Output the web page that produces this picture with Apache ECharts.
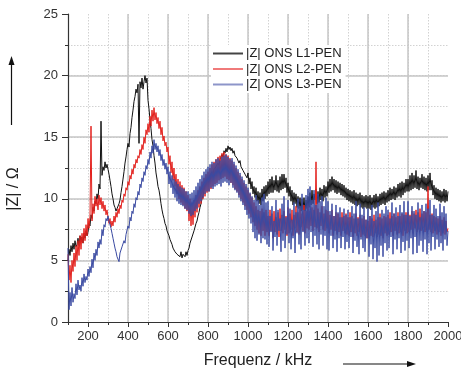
<!DOCTYPE html>
<html><head><meta charset="utf-8">
<script src="https://cdn.jsdelivr.net/npm/echarts@6/dist/echarts.min.js"></script>
<style>html,body{margin:0;padding:0;background:#fff}#c{width:461px;height:370px}</style>
</head><body><div id="c"></div>
<script>
// Frequency grid (kHz)
const freq = [
100,105,110,115,120,125,130,135,140,145,150,155,160,165,170,175,180,185,190,195,
200,205,210,215,220,225,230,235,240,245,250,255,260,265,270,275,280,285,290,295,
300,305,310,315,320,325,330,335,340,345,350,355,360,365,370,375,380,385,390,395,
400,405,410,415,420,425,430,435,440,445,450,455,460,465,470,475,480,485,490,495,
500,505,510,515,520,525,530,535,540,545,550,555,560,565,570,575,580,585,590,595,
600,605,610,615,620,625,630,635,640,645,650,655,660,665,670,675,680,685,690,695,
700,705,710,715,720,725,730,735,740,745,750,755,760,765,770,775,780,785,790,795,
800,805,810,815,820,825,830,835,840,845,850,855,860,865,870,875,880,885,890,895,
900,905,910,915,920,925,930,935,940,945,950,955,960,965,970,975,980,985,990,995,
1000,1005,1010,1015,1020,1025,1030,1035,1040,1045,1050,1055,1060,1065,1070,1075,1080,1085,1090,1095,
1100,1105,1110,1115,1120,1125,1130,1135,1140,1145,1150,1155,1160,1165,1170,1175,1180,1185,1190,1195,
1200,1205,1210,1215,1220,1225,1230,1235,1240,1245,1250,1255,1260,1265,1270,1275,1280,1285,1290,1295,
1300,1305,1310,1315,1320,1325,1330,1335,1340,1345,1350,1355,1360,1365,1370,1375,1380,1385,1390,1395,
1400,1405,1410,1415,1420,1425,1430,1435,1440,1445,1450,1455,1460,1465,1470,1475,1480,1485,1490,1495,
1500,1505,1510,1515,1520,1525,1530,1535,1540,1545,1550,1555,1560,1565,1570,1575,1580,1585,1590,1595,
1600,1605,1610,1615,1620,1625,1630,1635,1640,1645,1650,1655,1660,1665,1670,1675,1680,1685,1690,1695,
1700,1705,1710,1715,1720,1725,1730,1735,1740,1745,1750,1755,1760,1765,1770,1775,1780,1785,1790,1795,
1800,1805,1810,1815,1820,1825,1830,1835,1840,1845,1850,1855,1860,1865,1870,1875,1880,1885,1890,1895,
1900,1905,1910,1915,1920,1925,1930,1935,1940,1945,1950,1955,1960,1965,1970,1975,1980,1985,1990,1995,
2000];

// |Z| ONS L1-PEN
const zL1 = [
5.0,5.9,5.4,6.2,5.7,6.4,5.9,6.6,6.1,6.3,6.8,6.2,7.0,6.5,6.9,6.4,7.2,6.8,7.4,7.0,
7.3,8.0,7.8,8.7,8.4,9.3,9.0,9.8,9.6,10.4,10.0,11.2,10.8,16.3,11.9,12.6,12.3,13.0,12.5,12.8,
12.4,12.0,11.5,11.0,10.4,10.0,9.5,9.3,9.0,9.2,9.1,9.6,9.9,10.5,11.0,11.6,12.2,12.9,13.4,14.0,
14.5,14.2,15.3,15.8,16.6,17.2,17.9,18.3,18.9,18.6,19.3,14.5,19.5,19.0,19.8,18.9,19.5,20.0,19.4,19.8,
18.0,17.3,16.4,15.7,14.8,14.3,13.5,12.9,12.1,11.6,11.0,10.7,10.2,9.6,9.1,8.7,8.4,8.0,7.8,7.4,
7.3,7.0,6.7,6.6,6.3,6.0,5.9,5.7,5.8,5.5,5.4,5.6,5.3,5.7,5.2,5.5,5.6,5.3,5.7,5.4,
5.8,6.0,6.4,6.3,6.9,7.0,7.4,7.5,8.0,8.2,8.6,8.9,9.3,9.6,10.0,10.3,10.8,10.9,11.3,11.3,
11.6,11.5,11.9,11.8,12.2,12.0,12.4,12.3,12.6,12.5,12.9,12.7,13.2,13.1,13.6,13.4,13.9,13.7,14.1,13.8,
14.3,14.0,14.2,13.9,14.1,13.7,13.9,13.5,13.6,13.3,13.3,12.9,13.1,12.6,12.7,12.3,12.4,12.0,12.1,11.7,
12.1,11.2,11.7,10.8,11.4,10.4,11.0,10.1,10.9,9.8,10.6,9.6,10.5,9.5,10.8,9.8,11.0,10.0,11.1,10.2,
11.4,10.4,11.6,10.5,11.8,10.5,11.5,10.7,11.9,10.6,11.5,10.5,11.8,10.7,12.0,10.8,12.0,10.9,11.7,10.5,
11.3,10.2,11.0,9.8,10.7,9.5,10.5,9.6,10.4,9.3,10.2,9.2,10.1,9.0,10.0,9.1,10.1,9.0,9.9,9.2,
10.2,9.3,10.5,9.5,10.7,9.6,10.4,9.9,10.8,9.6,10.6,9.7,10.9,9.9,10.8,9.8,11.1,10.1,11.0,10.2,
11.4,10.5,11.6,10.6,11.8,10.7,11.6,10.5,11.5,10.4,11.4,10.5,11.3,10.3,11.2,10.2,11.1,10.1,10.9,9.9,
10.8,9.8,10.7,9.7,10.6,9.6,10.7,9.5,10.5,9.4,10.4,9.5,10.5,9.3,10.3,9.2,10.2,9.3,10.3,9.2,
10.2,9.2,10.3,9.1,10.1,9.3,10.3,9.2,10.4,9.3,10.2,9.4,10.4,9.5,10.5,9.6,10.6,9.5,10.5,9.7,
10.7,9.8,10.9,9.9,10.8,10.0,11.0,9.9,10.9,10.1,11.2,10.2,11.3,10.1,11.4,10.3,11.3,10.5,11.6,10.6,
11.6,10.6,11.9,10.7,12.1,10.8,11.9,10.9,12.3,10.8,11.8,10.7,11.7,10.9,12.0,10.8,11.8,10.7,11.7,10.6,
11.9,10.7,12.1,10.7,11.5,10.3,11.1,10.0,10.9,9.9,10.8,9.8,10.7,9.7,10.6,9.8,10.8,9.7,10.7,9.8,
10.6];

// |Z| ONS L2-PEN
const zL2 = [
5.5,3.4,4.6,3.2,5.0,4.1,5.6,4.5,6.2,5.0,6.6,5.4,7.0,5.9,7.2,6.4,7.6,6.6,7.9,7.0,
8.4,7.6,8.6,15.9,8.2,9.6,8.8,10.2,9.4,10.0,9.1,10.3,9.5,10.1,9.2,9.8,9.0,9.5,8.7,9.1,
8.5,8.0,8.4,7.7,8.2,7.8,8.6,8.1,8.9,8.5,9.2,8.8,9.5,9.2,9.9,9.7,10.4,10.2,10.9,10.7,
11.4,11.1,11.9,11.6,12.4,12.0,12.8,12.5,13.2,12.9,13.5,13.3,14.0,13.6,14.4,14.0,15.0,14.5,15.6,15.2,
16.1,15.4,16.7,15.9,17.2,16.3,17.4,16.4,17.0,16.1,16.6,15.7,16.3,15.2,15.8,14.7,15.1,14.3,14.6,13.8,
14.2,12.8,13.5,12.1,13.0,11.5,12.5,11.0,12.0,10.4,11.6,10.0,11.4,9.7,11.1,9.5,10.9,9.2,10.6,9.0,
10.3,8.2,10.0,7.8,9.7,7.9,9.9,8.5,10.3,8.9,10.7,9.3,11.0,9.6,11.4,10.0,11.7,10.2,12.0,10.5,
12.2,10.6,12.5,10.8,12.8,11.0,13.0,11.2,13.2,11.3,13.4,11.5,13.5,11.6,13.7,11.7,13.8,11.8,13.6,11.6,
13.5,11.5,13.3,11.3,13.1,11.1,12.8,10.8,12.5,10.6,12.2,10.3,11.9,10.0,11.6,9.7,11.3,9.4,11.0,9.1,
10.7,8.8,10.4,8.5,10.1,8.1,9.7,7.8,9.4,7.5,9.1,7.2,9.0,7.0,9.2,7.4,8.9,7.0,9.1,7.3,
8.6,7.0,9.1,7.4,8.8,6.8,9.0,7.3,8.5,7.1,8.9,6.9,9.2,7.4,8.7,7.2,9.0,7.5,8.6,7.0,
9.3,7.2,8.8,7.5,9.1,7.0,8.7,7.6,9.4,7.3,8.9,7.1,9.2,7.7,8.8,7.4,9.5,7.2,9.0,7.6,
9.4,7.5,9.0,7.8,9.3,7.4,9.1,7.7,13.0,7.6,9.2,7.3,8.9,7.8,9.4,7.5,8.8,7.4,9.1,7.6,
9.0,7.2,8.7,7.5,9.1,7.0,8.6,7.4,8.9,7.1,8.8,7.3,8.5,7.0,8.9,7.4,8.6,7.2,8.8,7.1,
8.5,7.0,8.9,7.3,8.6,6.9,8.4,7.2,8.8,7.0,8.5,7.3,8.7,6.9,8.4,7.1,8.6,7.0,8.3,6.8,
8.2,6.8,8.6,7.0,8.4,6.9,8.7,7.2,8.3,6.9,8.5,7.1,8.8,7.0,8.4,6.8,8.6,7.2,8.5,7.0,
8.7,7.1,8.9,7.3,8.6,7.0,8.8,7.4,8.5,7.1,8.9,7.2,8.6,7.3,8.8,7.0,8.7,7.4,8.9,7.2,
8.9,7.3,8.7,7.5,9.0,7.2,8.8,7.6,9.1,7.3,8.9,7.5,9.2,7.4,8.8,7.6,9.0,7.3,8.9,7.5,
11.0,7.5,8.7,7.3,8.8,7.2,8.6,7.4,8.5,7.1,8.4,7.3,8.6,7.0,8.3,7.2,8.5,7.1,8.2,7.3,
7.6];

// |Z| ONS L3-PEN
const zL3 = [
6.0,1.0,2.4,1.3,2.8,1.6,2.3,1.9,3.1,2.2,3.4,2.6,3.0,2.5,3.6,2.9,3.9,3.2,3.7,3.4,
4.3,3.7,4.5,4.0,5.1,4.4,5.6,5.0,5.9,5.4,6.5,6.0,6.7,6.3,7.5,7.0,7.9,7.7,8.4,8.2,
8.6,8.2,8.1,7.6,7.2,6.8,6.4,6.0,5.7,5.3,5.3,4.9,5.6,5.5,6.1,6.0,6.6,6.4,7.1,7.0,
7.8,7.6,8.5,8.2,9.0,8.8,9.6,9.3,10.1,9.9,10.6,10.3,11.2,10.9,11.7,11.4,12.2,11.9,12.7,12.4,
13.2,12.8,13.8,13.3,14.3,13.7,14.8,14.0,14.5,13.8,14.3,13.5,14.0,13.1,13.6,12.7,13.2,12.4,12.9,12.0,
12.6,11.2,12.2,10.9,11.9,10.4,11.6,10.1,11.4,9.8,11.2,9.6,11.0,9.5,10.9,9.4,10.8,9.2,10.6,9.1,
10.6,8.8,10.4,8.6,10.5,8.7,10.7,9.0,11.0,9.2,11.3,9.6,11.6,9.8,11.9,10.1,12.2,10.4,12.4,10.6,
12.6,10.6,12.8,10.9,13.0,10.8,12.9,11.0,13.2,11.1,13.3,11.2,13.1,11.0,13.4,11.3,13.5,11.4,13.6,11.3,
13.4,11.1,13.2,11.3,13.3,10.9,13.0,10.7,12.7,10.5,12.4,10.1,12.1,9.8,11.8,9.5,11.5,9.1,11.2,8.7,
10.9,8.4,10.5,8.0,10.2,7.3,9.9,6.8,10.3,6.6,9.9,7.1,9.5,6.4,10.1,6.8,10.4,6.7,9.7,6.3,
9.8,6.1,8.6,7.3,9.4,5.8,8.2,6.9,9.9,6.2,9.1,7.4,8.4,5.7,9.6,6.6,10.2,6.0,8.5,7.1,
9.9,6.4,9.2,5.9,8.3,6.8,9.7,5.6,8.9,7.2,10.0,6.3,9.4,5.9,10.4,7.3,9.1,6.2,10.3,6.8,
10.8,6.4,11.0,7.3,9.9,6.1,10.7,7.0,9.5,6.3,10.4,5.9,9.8,7.1,10.2,6.2,9.4,7.0,10.1,5.9,
9.8,5.8,9.0,7.0,9.6,6.0,8.6,6.7,9.5,5.7,8.9,6.8,9.3,6.0,8.5,6.9,9.2,5.9,8.7,6.5,
9.1,6.0,8.5,6.9,9.4,5.6,8.8,6.6,9.8,6.1,8.4,5.5,9.6,6.7,8.7,6.0,9.3,5.7,8.3,6.8,
9.2,5.3,8.6,6.3,9.5,5.1,8.2,6.0,9.0,4.9,9.7,5.4,8.5,6.2,9.1,5.3,8.8,6.4,9.4,5.8,
9.1,6.0,8.4,6.9,9.7,5.5,8.8,6.7,9.3,5.9,8.6,6.8,9.5,5.6,8.9,6.5,9.8,5.8,8.7,6.6,
9.8,6.0,8.6,6.8,9.4,5.5,9.0,6.9,8.7,5.6,9.7,6.2,8.5,6.6,9.5,5.7,9.0,6.7,9.6,5.5,
9.2,6.4,9.9,5.8,8.7,6.9,9.5,5.9,9.2,6.7,8.6,6.1,9.6,6.4,8.9,5.8,9.4,6.7,8.8,6.2,
7.4];

const seriesNames = ['|Z| ONS L1-PEN', '|Z| ONS L2-PEN', '|Z| ONS L3-PEN'];
const seriesColors = ['#111111', '#e3211d', '#3a4aa2'];
const legendColors = ['#444444', '#f07a7a', '#8d95c9'];
const xMajorTicks = [200,400,600,800,1000,1200,1400,1600,1800,2000];
const xAxisTitle = 'Frequenz / kHz';
const yAxisTitle = '|Z| / \u03A9';

const FONT = 'Liberation Sans, Arial, sans-serif';
const chart = echarts.init(document.getElementById('c'), null, {renderer: 'canvas'});
const allSeries = [zL1, zL2, zL3];

chart.setOption({
  animation: false,
  backgroundColor: '#fff',
  grid: {left: 68, right: 13, top: 14, bottom: 48, containLabel: false, outerBoundsMode: 'none'},
  legend: {
    orient: 'vertical', left: 211, top: 45,
    backgroundColor: '#fff', padding: [2, 4, 2, 2],
    itemWidth: 30, itemHeight: 14, itemGap: 2.5,
    textStyle: {fontFamily: FONT, fontSize: 13, color: '#222', padding: [0, 0, 0, -2]},
    data: seriesNames.map((n, i) => ({name: n, icon: 'path://M0,0 L30,0 L30,2 L0,2 Z', itemStyle: {color: legendColors[i]}}))
  },
  xAxis: [
    {
      type: 'value', min: 100, max: 2000, interval: 100, position: 'bottom',
      axisLine: {show: true, onZero: false, lineStyle: {color: '#333', width: 1.2}},
      axisTick: {show: true, length: 3, lineStyle: {color: '#333'}},
      axisLabel: {show: false},
      splitLine: {show: true, showMaxLine: false, lineStyle: {type: [1.5, 1.5], color: '#d2d2d2', width: 1}}
    },
    {
      type: 'value', min: 100, max: 2000, position: 'bottom',
      axisLine: {show: false},
      axisTick: {show: true, length: 5, customValues: xMajorTicks, lineStyle: {color: '#333'}},
      axisLabel: {show: true, customValues: xMajorTicks, margin: 8, fontFamily: FONT, fontSize: 13, color: '#333',
                  formatter: v => String(v)},
      splitLine: {show: true, showMaxLine: false, showMinLine: false, lineStyle: {color: '#c6c6c6', width: 1.5}},
      name: xAxisTitle, nameLocation: 'middle', nameGap: 31,
      nameTextStyle: {fontFamily: FONT, fontSize: 16, color: '#222'}
    }
  ],
  yAxis: [
    {
      type: 'value', min: 0, max: 25, interval: 2.5, position: 'left',
      axisLine: {show: true, onZero: false, lineStyle: {color: '#333', width: 1.2}},
      axisTick: {show: true, length: 3, lineStyle: {color: '#333'}},
      axisLabel: {show: false},
      splitLine: {show: true, showMaxLine: false, lineStyle: {type: [1.5, 1.5], color: '#d2d2d2', width: 1}}
    },
    {
      type: 'value', min: 0, max: 25, interval: 5, position: 'left',
      axisLine: {show: false},
      axisTick: {show: true, length: 6, lineStyle: {color: '#333'}},
      axisLabel: {show: true, margin: 10, fontFamily: FONT, fontSize: 13, color: '#333'},
      splitLine: {show: true, showMaxLine: false, showMinLine: false, lineStyle: {color: '#c6c6c6', width: 1.5}}
    }
  ],
  graphic: [
    {type: 'text', x: 14, y: 189, rotation: Math.PI / 2,
     style: {text: yAxisTitle, fontFamily: FONT, fontSize: 16, fill: '#222', align: 'center', verticalAlign: 'middle'}},
    {type: 'line', shape: {x1: 11.5, y1: 125, x2: 11.5, y2: 60}, style: {stroke: '#111', lineWidth: 1.2}},
    {type: 'polygon', shape: {points: [[11.5, 56], [8.5, 65], [14.5, 65]]}, style: {fill: '#111'}},
    {type: 'line', shape: {x1: 343, y1: 364, x2: 409, y2: 364}, style: {stroke: '#111', lineWidth: 1.2}},
    {type: 'polygon', shape: {points: [[416, 364], [407, 361], [407, 367]]}, style: {fill: '#111'}}
  ],
  series: allSeries.map((vals, i) => ({
    name: seriesNames[i], type: 'line', xAxisIndex: 0, yAxisIndex: 0,
    symbol: 'none', showSymbol: false, smooth: false,
    lineStyle: {color: seriesColors[i], width: 1},
    itemStyle: {color: seriesColors[i]},
    data: freq.map((f, k) => [f, vals[k]]),
    z: 2 + i
  }))
});
</script>
</body></html>
